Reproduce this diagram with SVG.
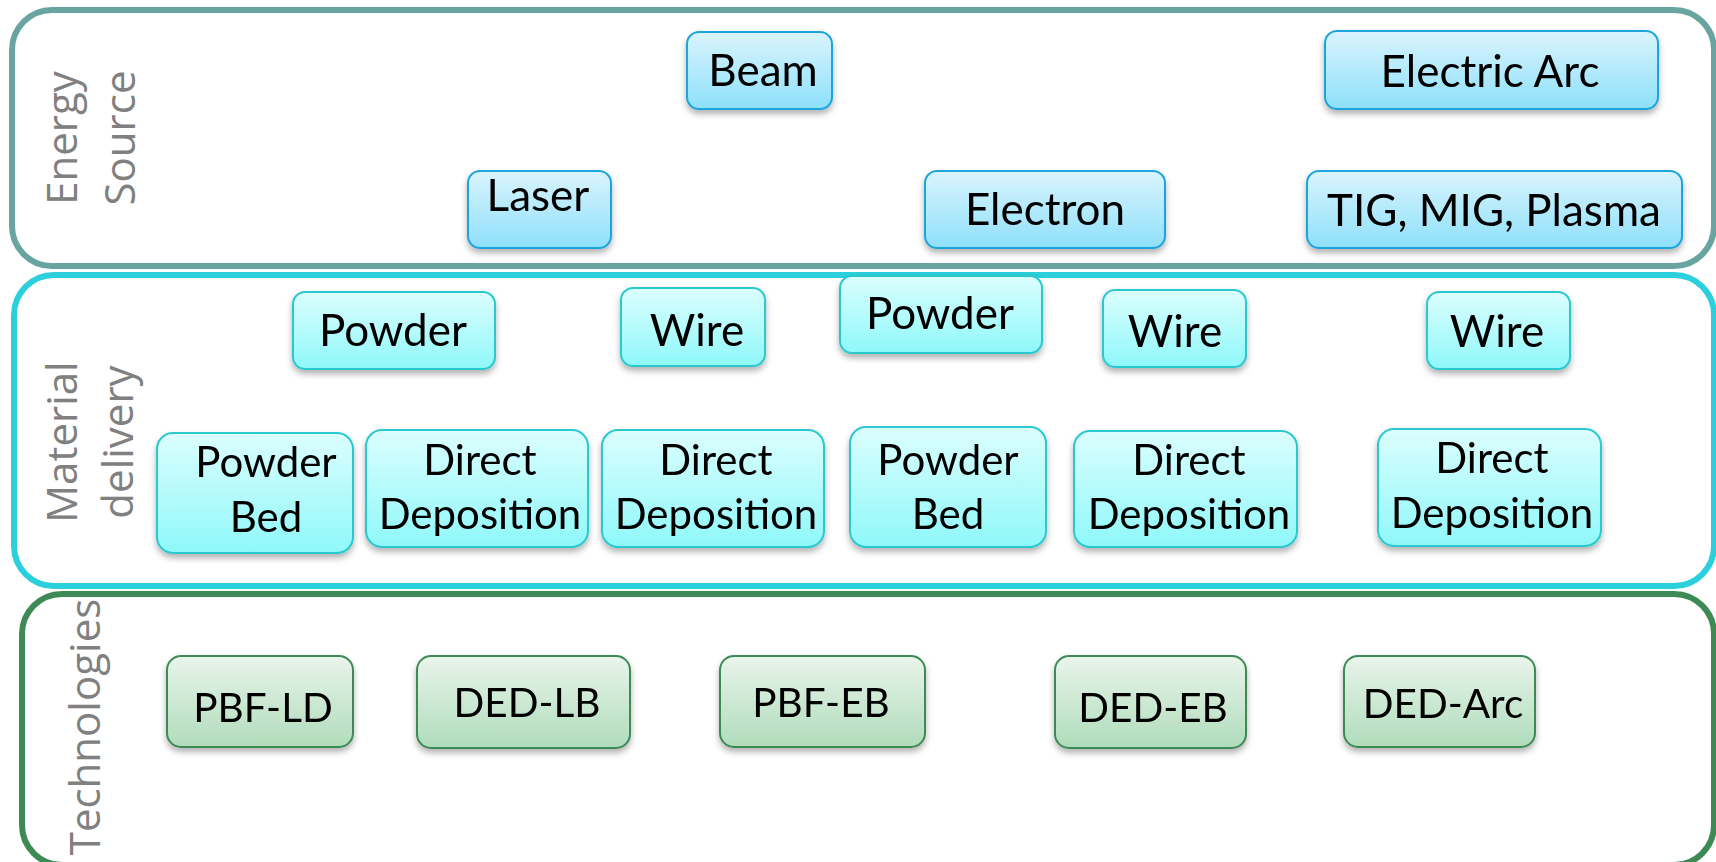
<svg xmlns="http://www.w3.org/2000/svg" width="1716" height="862" viewBox="0 0 1716 862">
<style>
.sec{fill:#ffffff;stroke-width:6}
.lbl{font-family:"Open Sans","DejaVu Sans",sans-serif;font-size:42px;fill:#808080;text-anchor:middle}
.t{font-family:Lato,"Liberation Sans",sans-serif;font-size:44px;fill:#000000;text-anchor:middle}
.t2{font-size:42px}
.t3{font-size:40.5px}
.e{fill:url(#gE);stroke:#1fa5dc;stroke-width:2}
.m{fill:url(#gM);stroke:#2cc8cf;stroke-width:2}
.g{fill:url(#gG);stroke:#3e8a55;stroke-width:2}
.n{filter:url(#sh)}
</style>
<defs>
<linearGradient id="gE" x1="0" y1="0" x2="0" y2="1"><stop offset="0" stop-color="#daf4fd"/><stop offset="1" stop-color="#8ee0fb"/></linearGradient>
<linearGradient id="gM" x1="0" y1="0" x2="0" y2="1"><stop offset="0" stop-color="#dcfefe"/><stop offset="1" stop-color="#8ff8fa"/></linearGradient>
<linearGradient id="gG" x1="0" y1="0" x2="0" y2="1"><stop offset="0" stop-color="#e9f5eb"/><stop offset="1" stop-color="#b0dcbb"/></linearGradient>
<filter id="sh" x="-10%" y="-10%" width="120%" height="140%"><feDropShadow dx="0" dy="4" stdDeviation="3" flood-color="#000000" flood-opacity="0.3"/></filter>
</defs>

<g id="sections">
<rect class="sec" x="12" y="10" width="1702" height="256" rx="40" stroke="#68a4a0"/>
<rect class="sec" x="14" y="275" width="1700" height="311" rx="40" stroke="#2bd0dc"/>
<rect class="sec" x="22" y="594" width="1692" height="271" rx="40" stroke="#3e8a55"/>
<text class="lbl" transform="translate(77,138) rotate(-90)">Energy</text>
<text class="lbl" transform="translate(135,138) rotate(-90)">Source</text>
<text class="lbl" transform="translate(77,442) rotate(-90)">Material</text>
<text class="lbl" transform="translate(133,442) rotate(-90)">delivery</text>
<text class="lbl" transform="translate(100,727) rotate(-90)">Technologies</text>
</g>

<g id="connectors"></g>

<g id="beam" class="n"><rect class="e" x="687" y="32" width="145" height="77" rx="12"/><text class="t" x="763" y="86">Beam</text></g>
<g id="electric-arc" class="n"><rect class="e" x="1325" y="31" width="333" height="78" rx="12"/><text class="t" x="1490" y="87">Electric Arc</text></g>
<g id="laser" class="n"><rect class="e" x="468" y="171" width="143" height="77" rx="12"/><text class="t" x="538" y="211">Laser</text></g>
<g id="electron" class="n"><rect class="e" x="925" y="171" width="240" height="77" rx="12"/><text class="t" x="1045" y="225">Electron</text></g>
<g id="tig-mig-plasma" class="n"><rect class="e" x="1307" y="171" width="375" height="77" rx="12"/><text class="t" x="1494" y="226">TIG, MIG, Plasma</text></g>

<g id="powder-1" class="n"><rect class="m" x="293" y="292" width="202" height="77" rx="12"/><text class="t" x="393" y="346">Powder</text></g>
<g id="wire-1" class="n"><rect class="m" x="621" y="288" width="144" height="78" rx="12"/><text class="t" x="697" y="346">Wire</text></g>
<g id="powder-2" class="n"><rect class="m" x="840" y="276" width="202" height="77" rx="12"/><text class="t" x="940" y="329">Powder</text></g>
<g id="wire-2" class="n"><rect class="m" x="1103" y="290" width="143" height="77" rx="12"/><text class="t" x="1175" y="347">Wire</text></g>
<g id="wire-3" class="n"><rect class="m" x="1427" y="292" width="143" height="77" rx="12"/><text class="t" x="1497" y="347">Wire</text></g>

<g id="powder-bed-1" class="n"><rect class="m" x="157" y="433" width="196" height="120" rx="16"/><text class="t t2" x="266" y="477">Powder</text><text class="t t2" x="266" y="532">Bed</text></g>
<g id="direct-deposition-1" class="n"><rect class="m" x="366" y="430" width="222" height="117" rx="16"/><text class="t t2" x="480" y="475">Direct</text><text class="t t2" x="480" y="529">Deposition</text></g>
<g id="direct-deposition-2" class="n"><rect class="m" x="602" y="430" width="222" height="117" rx="16"/><text class="t t2" x="716" y="475">Direct</text><text class="t t2" x="716" y="529">Deposition</text></g>
<g id="powder-bed-2" class="n"><rect class="m" x="850" y="427" width="196" height="120" rx="16"/><text class="t t2" x="948" y="475">Powder</text><text class="t t2" x="948" y="529">Bed</text></g>
<g id="direct-deposition-3" class="n"><rect class="m" x="1074" y="431" width="223" height="116" rx="16"/><text class="t t2" x="1189" y="475">Direct</text><text class="t t2" x="1189" y="529">Deposition</text></g>
<g id="direct-deposition-4" class="n"><rect class="m" x="1378" y="429" width="223" height="117" rx="16"/><text class="t t2" x="1492" y="473">Direct</text><text class="t t2" x="1492" y="528">Deposition</text></g>

<g id="pbf-ld" class="n"><rect class="g" x="167" y="656" width="186" height="91" rx="14"/><text class="t t3" x="263" y="722">PBF-LD</text></g>
<g id="ded-lb" class="n"><rect class="g" x="417" y="656" width="213" height="92" rx="14"/><text class="t t3" x="527" y="717">DED-LB</text></g>
<g id="pbf-eb" class="n"><rect class="g" x="720" y="656" width="205" height="91" rx="14"/><text class="t t3" x="821" y="717">PBF-EB</text></g>
<g id="ded-eb" class="n"><rect class="g" x="1055" y="656" width="191" height="92" rx="14"/><text class="t t3" x="1153" y="722">DED-EB</text></g>
<g id="ded-arc" class="n"><rect class="g" x="1344" y="656" width="191" height="91" rx="14"/><text class="t t3" x="1443" y="718">DED-Arc</text></g>
</svg>
